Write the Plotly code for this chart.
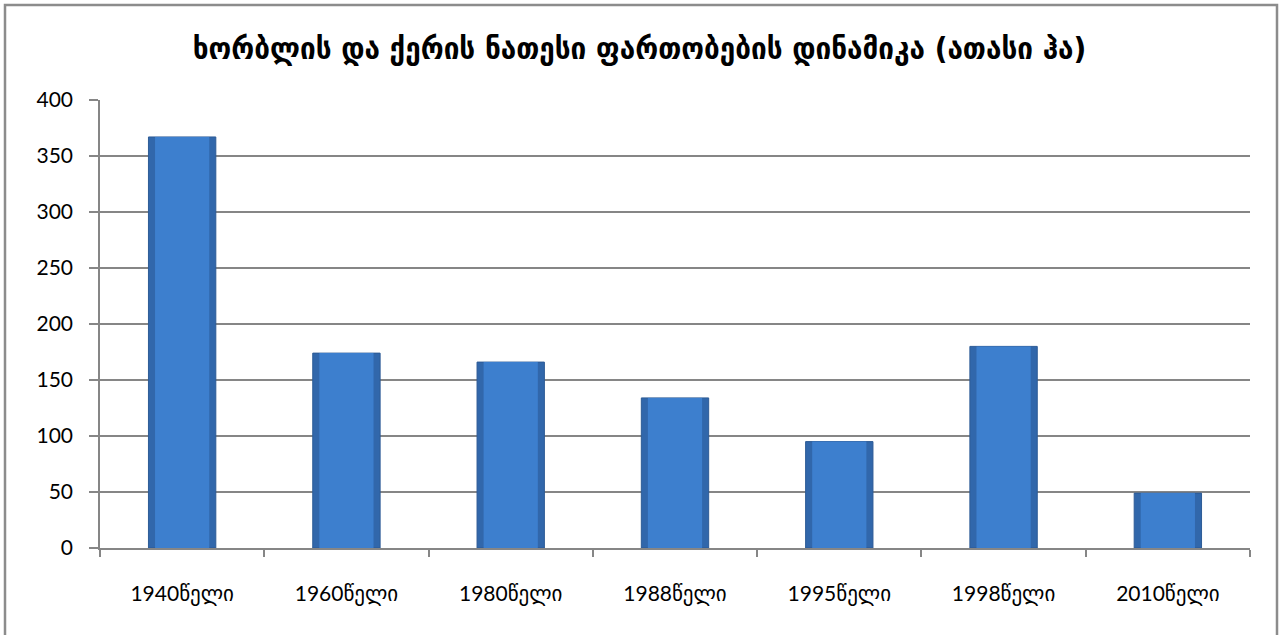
import plotly.graph_objects as go

categories = ["1940წელი", "1960წელი", "1980წელი", "1988წელი", "1995წელი", "1998წელი", "2010წელი"]
values = [367, 174, 166, 134, 95, 180, 49]
y_ticks = [0, 50, 100, 150, 200, 250, 300, 350, 400]
title_text = "ხორბლის და ქერის ნათესი ფართობების დინამიკა (ათასი ჰა)"

W, H = 1279, 635
L, R, T, B = 100, 29, 100, 87
pw, ph = W - L - R, H - T - B

def px_x(x):
    return (x - L) / pw

def px_y(y):
    return 1 - (y - T) / ph

fig = go.Figure()
# outer (darker edge) bar
fig.add_trace(go.Bar(
    x=categories, y=values, width=0.41,
    marker=dict(color="#3167AB", line=dict(color="#2D5B96", width=1)),
    hoverinfo="x+y",
))
# inner lighter face
fig.add_trace(go.Bar(
    x=categories, y=values, width=0.33,
    marker=dict(color="#3D7FCE", line=dict(width=0)),
    hoverinfo="skip",
))

fig.update_layout(
    width=W, height=H,
    margin=dict(l=L, r=R, t=T, b=B),
    barmode="overlay",
    paper_bgcolor="white", plot_bgcolor="white",
    showlegend=False,
    title=dict(text="<b>" + title_text + "</b>", x=0.5, xref="container", xanchor="center",
               y=1 - 48 / H, yanchor="middle",
               font=dict(family="DejaVu Sans Condensed, DejaVu Sans", size=31, color="black")),
    font=dict(family="Lato, DejaVu Sans", size=21, color="black"),
    xaxis=dict(showline=True, linecolor="#868686", linewidth=1.5,
               ticks="outside", tickson="boundaries", ticklen=7, tickcolor="#868686",
               tickwidth=1.5, ticklabelstandoff=26, showgrid=False,
               tickfont=dict(family="Lato, DejaVu Sans", size=21)),
    yaxis=dict(range=[0, 400], tickvals=y_ticks, showline=True, linecolor="#868686",
               linewidth=1.5, ticks="outside", ticklen=9, tickcolor="#868686", tickwidth=1.5,
               ticklabelstandoff=12,
               showgrid=True, gridcolor="#868686", gridwidth=1.5, zeroline=False,
               tickfont=dict(family="Lato, DejaVu Sans", size=21)),
    shapes=[dict(type="rect", xref="paper", yref="paper",
                 x0=px_x(5), x1=px_x(1277), y0=px_y(645), y1=px_y(5),
                 line=dict(color="#8C8C8C", width=2.5), fillcolor="rgba(0,0,0,0)",
                 layer="below")],
)

fig.write_html("out.html", config={"displayModeBar": False},
               post_script="document.body.style.margin='0';")
